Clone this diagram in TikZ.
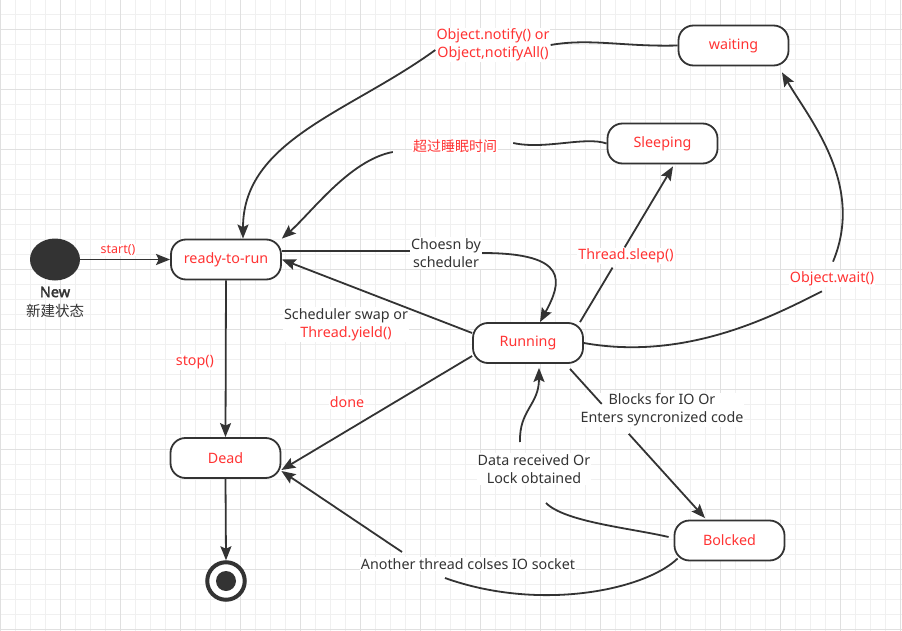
\documentclass[tikz,border=0pt]{standalone}
\usepackage{fontspec}
\setmainfont{Noto Sans}
\newfontfamily\cjk{Noto Sans CJK SC}
\newfontfamily\boldfnt{Noto Sans}[FakeBold=2.5]
\usetikzlibrary{arrows.meta,shapes.geometric,calc}
\definecolor{linec}{HTML}{333333}
\definecolor{redc}{HTML}{FF3333}
\definecolor{darkc}{HTML}{333333}
\definecolor{gridf}{HTML}{F0F0F0}
\definecolor{gridd}{HTML}{E0E0E0}
\newcommand{\lblfont}{\fontsize{14.3pt}{18pt}\selectfont}
\newcommand{\smallfnt}{\fontsize{12.5pt}{14pt}\selectfont}
\newcommand{\cjkfnt}{\cjk\fontsize{14pt}{18pt}\selectfont}
\tikzset{
  state/.style={draw=linec, line width=1.8pt, rounded corners=15pt, fill=white,
    minimum width=110pt, minimum height=40pt, text=redc, font=\lblfont},
  lbl/.style={fill=white, inner sep=1pt, align=center, font=\lblfont, text=darkc},
  rlbl/.style={lbl, text=redc},
  edge/.style={draw=linec, line width=1.8pt},
  arr/.style={edge, -{Stealth[length=14pt,width=11pt,inset=2.5pt]}},
  gridfine/.style={draw=gridf, line width=1pt},
  griddark/.style={draw=gridd, line width=1pt},
}
\begin{document}
\begin{tikzpicture}[x=1pt,y=-1pt]
\useasboundingbox (0,0) rectangle (902,631);
\fill[white] (0,0) rectangle (902,631);
% grid
\foreach \k in {0,...,60} \draw[gridfine] ({0.7+15*\k},0) -- ({0.7+15*\k},631);
\foreach \k in {0,...,41} \draw[gridfine] (0,{14.3+15*\k}) -- (902,{14.3+15*\k});
\foreach \k in {0,...,15} \draw[griddark] ({0.7+60*\k},0) -- ({0.7+60*\k},631);
\foreach \k in {0,...,10} \draw[griddark] (0,{29.3+60*\k}) -- (902,{29.3+60*\k});

% states
\node[state] (waiting) at (733.5,45.5) {waiting};
\node[state] (sleep) at (662.5,143.5) {Sleeping};
\node[state] (rtr) at (226,259.5) {ready-to-run};
\node[state] (run) at (528,343) {Running};
\node[state] (dead) at (225.5,458) {Dead};
\node[state] (blk) at (729.5,540.5) {Bolcked};
\node[ellipse, fill=linec, minimum width=50pt, minimum height=42pt, inner sep=0] (new) at (55,259.5) {};
\node[font=\boldfnt\fontsize{14.5pt}{16pt}\selectfont, text=darkc, inner sep=0] (newl) at (55,292) {New};
\node[font=\cjk\fontsize{14.5pt}{18pt}\selectfont, text=darkc, inner sep=0] (newcn) at (55,310.5) {新建状态};
\node[circle, draw=linec, line width=4pt, fill=white, minimum size=37.5pt, inner sep=0] (endst) at (226,581) {};
\node[circle, fill=linec, minimum size=20pt, inner sep=0] (endin) at (226,581) {};

% labels
\node[rlbl, font=\smallfnt] (lStart) at (118,250) {start()};
\node[rlbl] (lStop) at (195,362) {stop()};
\node[rlbl] (lNotify) at (493,45) {Object.notify() or\\Object,notifyAll()};
\node[rlbl, font=\cjkfnt] (lSleepT) at (455,146) {超过睡眠时间};
\node[lbl] (lChosen) at (446,253) {Choesn by\\scheduler};
\node[lbl] (lSwap) at (346,324.5) {Scheduler swap or\\\textcolor{redc}{Thread.yield()}};
\node[rlbl] (lDone) at (347,402) {done};
\node[rlbl] (lTSleep) at (626,256) {Thread.sleep()};
\node[rlbl] (lWait) at (832,279) {Object.wait()};
\node[lbl] (lBlocks) at (662,410) {Blocks for IO Or\\Enters syncronized code};
\node[lbl] (lData) at (534,469) {Data received Or\\Lock obtained};
\node[lbl] (lAnother) at (468,564) {Another thread colses IO socket};

% edges
\draw[arr] (new.east) -- (rtr.west);
\draw[arr] (rtr.south) -- (dead.north);
\draw[arr] (dead.south) -- (endst.north);
% notify
\draw[edge] (waiting.west) .. controls (625,47) and (590,38) .. (lNotify.east);
\draw[arr] ([yshift=-5pt]lNotify.west) .. controls (350,112) and (243,140) .. ([xshift=17pt]rtr.north);
% sleep timeout
\draw[edge] (sleep.west) .. controls (585,136) and (545,150) .. ([xshift=15pt,yshift=3pt]lSleepT.east);
\draw[arr] ([xshift=-19pt,yshift=-6pt]lSleepT.west) .. controls (350,160) and (312,212) .. (rtr.north east);
% chosen by scheduler
\draw[edge] ([yshift=8.5pt]rtr.east) -- ([yshift=2pt]lChosen.west);
\draw[arr] (lChosen.east) .. controls (570,253) and (562,282) .. ([xshift=12pt]run.north);
% swap / yield
\draw[arr] ([yshift=10pt]run.west) -- (rtr.east);
% done
\draw[arr] ([yshift=-13pt]run.west) -- ([yshift=-12pt]dead.east);
% thread.sleep
\coordinate (tsA) at ([xshift=52pt]run.north);
\coordinate (tsB) at ([xshift=10.5pt,yshift=-2pt]sleep.south);
\draw[edge] (tsA) -- ($(tsA)!0.35!(tsB)$);
\draw[arr] ($(tsA)!0.48!(tsB)$) -- (tsB);
% object.wait
\draw[edge] (run.east) .. controls (690,362) and (780,312) .. ([xshift=-10pt,yshift=-4pt]lWait.south);
\draw[arr] ([xshift=1pt,yshift=9pt]lWait.north) .. controls (865,185) and (810,120) .. ([xshift=48.5pt,yshift=-6pt]waiting.south);
% blocks
\coordinate (bA) at ([xshift=42pt,yshift=-5pt]run.south);
\coordinate (bB) at ([xshift=-24.5pt,yshift=1.5pt]blk.north);
\draw[edge] (bA) -- ($(bA)!0.235!(bB)$);
\draw[arr] ($(bA)!0.435!(bB)$) -- (bB);
% data received
\draw[edge] ([xshift=-5pt,yshift=3.5pt]blk.west) .. controls (630,528) and (565,522) .. ([xshift=12pt,yshift=-34pt]lData.center);
\draw[arr] ([xshift=-14pt,yshift=27pt]lData.center) .. controls (519,410) and (539,405) .. ([xshift=11pt,yshift=-4pt]run.south);
% another thread
\draw[edge] ([xshift=4pt,yshift=-18pt]blk.west) .. controls (645,590) and (540,612) .. ([xshift=-23pt,yshift=-14pt]lAnother.center);
\draw[arr] ([xshift=-66pt,yshift=12pt]lAnother.center) -- ([yshift=-13pt]dead.east);
\end{tikzpicture}
\end{document}
